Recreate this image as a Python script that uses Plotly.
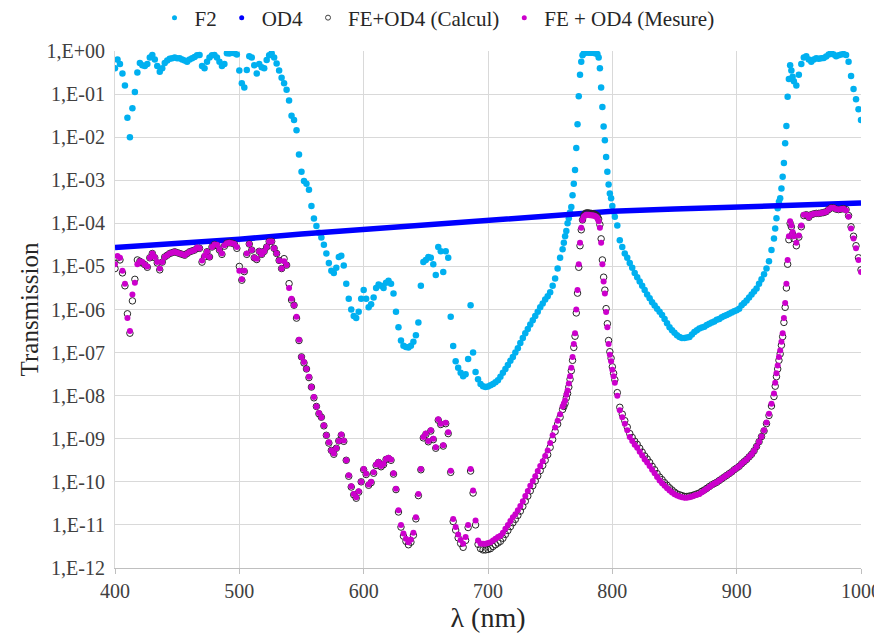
import plotly.graph_objects as go

# Wavelength grid (nm): 2 nm steps, 1 nm steps across the steep edges
wavelength = [*range(400, 760, 2), *range(760, 802), *range(802, 930, 2),
              *range(930, 946), *range(946, 1001, 2)]

# log10 of transmission
f2_log10 = [
    -0.40,-0.20,-0.30,-0.52,-0.80,-1.55,-2.00,-1.33,-0.95,-0.50,
    -0.28,-0.33,-0.35,-0.30,-0.15,-0.09,-0.20,-0.35,-0.48,-0.40,
    -0.28,-0.22,-0.18,-0.17,-0.15,-0.17,-0.17,-0.20,-0.22,-0.25,
    -0.20,-0.17,-0.14,-0.10,-0.09,-0.35,-0.40,-0.25,-0.15,-0.10,
    -0.09,-0.15,-0.25,-0.35,-0.30,-0.05,-0.06,-0.04,-0.05,-0.08,
    -0.45,-0.75,-0.85,-0.44,-0.12,-0.15,-0.33,-0.52,-0.30,-0.38,
    -0.40,-0.21,-0.10,-0.05,-0.15,-0.29,-0.45,-0.62,-0.75,-0.90,
    -1.15,-1.50,-1.60,-1.84,-2.40,-2.80,-3.02,-3.08,-3.22,-3.60,
    -3.89,-4.06,-4.22,-4.33,-4.50,-4.70,-4.92,-5.10,-5.15,-5.03,
    -4.78,-4.75,-4.98,-5.40,-5.75,-6.00,-6.15,-6.20,-6.05,-5.75,
    -5.55,-5.75,-5.95,-5.88,-5.72,-5.50,-5.42,-5.45,-5.50,-5.38,
    -5.33,-5.40,-5.63,-6.05,-6.41,-6.72,-6.84,-6.87,-6.88,-6.84,
    -6.75,-6.60,-6.30,-5.45,-4.90,-4.85,-4.78,-4.80,-4.95,-5.20,
    -4.55,-4.65,-5.13,-4.65,-4.80,-6.17,-6.85,-7.20,-7.35,-7.47,
    -7.55,-7.50,-7.15,-5.90,-7.00,-7.45,-7.62,-7.73,-7.78,-7.80,
    -7.79,-7.76,-7.73,-7.69,-7.64,-7.56,-7.47,-7.38,-7.29,-7.19,
    -7.10,-7.00,-6.90,-6.78,-6.66,-6.55,-6.45,-6.35,-6.25,-6.15,
    -6.05,-5.95,-5.86,-5.77,-5.69,-5.60,-5.45,-5.28,-5.05,-4.80,
    # 760-801 (1 nm)
    -4.60,-4.45,-4.30,-4.18,-4.00,-3.88,-3.75,-3.62,-3.35,-3.08,
    -2.76,-2.25,-1.70,-1.05,-0.55,-0.25,-0.10,-0.06,-0.04,-0.03,
    -0.03,-0.04,-0.03,-0.04,-0.03,-0.04,-0.05,-0.05,-0.07,-0.15,
    -0.40,-0.85,-1.30,-1.75,-2.07,-2.46,-2.80,-3.10,-3.31,-3.42,
    -3.60,-3.73,
    # 802-928
    -3.85,-4.05,-4.39,-4.55,-4.70,-4.80,-4.92,-5.03,-5.15,-5.25,
    -5.35,-5.45,-5.55,-5.65,-5.74,-5.83,-5.91,-5.98,-6.05,-6.13,
    -6.22,-6.32,-6.41,-6.48,-6.54,-6.60,-6.64,-6.66,-6.66,-6.65,
    -6.64,-6.58,-6.52,-6.48,-6.44,-6.42,-6.40,-6.36,-6.33,-6.30,
    -6.28,-6.24,-6.22,-6.18,-6.15,-6.13,-6.10,-6.07,-6.04,-6.02,
    -5.98,-5.90,-5.85,-5.79,-5.72,-5.65,-5.58,-5.51,-5.40,-5.30,
    -5.18,-5.05,-4.88,-4.62,
    # 930-945 (1 nm)
    -4.35,-4.12,-3.88,-3.65,-3.50,-3.42,-3.19,-2.92,-2.60,-2.14,
    -1.74,-1.06,-0.65,-0.33,-0.45,-0.60,
    # 946-1000
    -0.70,-0.80,-0.55,-0.30,-0.15,-0.12,-0.20,-0.25,-0.20,-0.17,
    -0.18,-0.17,-0.16,-0.13,-0.08,-0.04,-0.08,-0.12,-0.10,-0.08,
    -0.07,-0.09,-0.25,-0.58,-0.88,-1.12,-1.35,-1.60,
]

mesure_log10 = [
    -4.95,-4.76,-4.80,-5.10,-5.40,-6.20,-6.50,-5.65,-5.38,-4.95,
    -4.88,-4.90,-4.96,-5.00,-4.80,-4.70,-4.78,-4.90,-5.05,-4.90,
    -4.78,-4.74,-4.70,-4.68,-4.66,-4.68,-4.70,-4.72,-4.74,-4.70,
    -4.66,-4.64,-4.62,-4.56,-4.58,-4.86,-4.75,-4.66,-4.78,-4.55,
    -4.49,-4.50,-4.60,-4.70,-4.51,-4.46,-4.45,-4.46,-4.48,-4.55,
    -5.10,-5.30,-5.10,-4.70,-4.48,-4.62,-4.80,-4.82,-4.65,-4.72,
    -4.65,-4.55,-4.42,-4.42,-4.58,-4.70,-4.86,-5.05,-4.88,-4.97,
    -5.50,-5.75,-5.90,-6.17,-6.70,-7.10,-7.22,-7.38,-7.56,-7.80,
    -8.03,-8.25,-8.40,-8.50,-8.69,-8.92,-9.08,-9.27,-9.34,-9.22,
    -9.05,-8.90,-9.04,-9.50,-9.85,-10.10,-10.28,-10.36,-10.22,-10.00,
    -9.70,-9.81,-10.06,-10.00,-9.78,-9.60,-9.54,-9.63,-9.58,-9.47,
    -9.44,-9.48,-9.80,-10.16,-10.66,-11.00,-11.20,-11.32,-11.40,-11.34,
    -11.18,-10.82,-10.28,-9.70,-8.96,-8.88,-9.05,-8.80,-9.00,-9.20,
    -8.55,-8.65,-9.15,-8.63,-8.85,-9.74,-10.86,-11.05,-11.22,-11.35,
    -11.44,-11.28,-11.00,-9.70,-10.20,-10.90,-11.36,-11.43,-11.44,-11.44,
    -11.42,-11.40,-11.36,-11.32,-11.28,-11.25,-11.18,-11.09,-11.00,-10.91,
    -10.82,-10.75,-10.66,-10.56,-10.45,-10.33,-10.21,-10.09,-9.98,-9.87,
    -9.75,-9.63,-9.52,-9.40,-9.27,-9.10,-8.92,-8.74,-8.58,-8.43,
    # 760-801 (1 nm)
    -8.25,-8.18,-8.11,-7.98,-7.88,-7.72,-7.55,-7.35,-7.10,-6.80,
    -6.55,-6.00,-5.55,-4.95,-4.45,-4.10,-3.92,-3.85,-3.82,-3.80,
    -3.80,-3.80,-3.81,-3.81,-3.82,-3.82,-3.83,-3.85,-3.88,-3.95,
    -4.10,-4.45,-4.95,-5.35,-5.63,-6.06,-6.41,-6.80,-7.05,-7.20,
    -7.40,-7.55,
    # 802-928
    -7.70,-8.00,-8.34,-8.50,-8.65,-8.80,-8.96,-9.05,-9.14,-9.21,
    -9.30,-9.39,-9.48,-9.55,-9.63,-9.72,-9.80,-9.89,-9.97,-10.03,
    -10.09,-10.15,-10.20,-10.25,-10.29,-10.32,-10.34,-10.36,-10.37,-10.37,
    -10.36,-10.34,-10.32,-10.30,-10.28,-10.24,-10.20,-10.16,-10.12,-10.08,
    -10.04,-10.01,-9.97,-9.93,-9.89,-9.85,-9.81,-9.77,-9.72,-9.68,
    -9.64,-9.58,-9.53,-9.48,-9.42,-9.36,-9.28,-9.18,-9.07,-8.95,
    -8.80,-8.62,-8.42,-8.19,
    # 930-945 (1 nm)
    -7.95,-7.70,-7.48,-7.30,-7.10,-6.95,-6.75,-6.55,-6.20,-5.85,
    -5.40,-4.85,-4.30,-3.95,-4.05,-4.20,
    # 946-1000
    -4.30,-4.45,-4.28,-4.05,-3.80,-3.80,-3.86,-3.80,-3.78,-3.77,
    -3.77,-3.76,-3.75,-3.73,-3.68,-3.64,-3.64,-3.67,-3.68,-3.67,
    -3.66,-3.70,-3.85,-4.12,-4.35,-4.58,-4.85,-5.13,
]

calcul_log10 = [
    -5.05,-4.80,-4.85,-5.15,-5.45,-6.10,-6.55,-5.80,-5.30,-4.85,
    -4.88,-4.92,-4.96,-5.02,-4.80,-4.70,-4.80,-4.92,-5.08,-4.90,
    -4.78,-4.74,-4.70,-4.68,-4.66,-4.68,-4.70,-4.72,-4.74,-4.70,
    -4.66,-4.64,-4.62,-4.58,-4.58,-4.90,-4.78,-4.66,-4.78,-4.55,
    -4.49,-4.52,-4.62,-4.72,-4.53,-4.46,-4.45,-4.46,-4.48,-4.58,
    -5.00,-5.32,-5.12,-4.72,-4.48,-4.62,-4.80,-4.84,-4.65,-4.72,
    -4.65,-4.55,-4.42,-4.42,-4.58,-4.70,-4.86,-5.05,-4.82,-4.97,
    -5.40,-5.78,-5.90,-6.20,-6.72,-7.10,-7.24,-7.38,-7.58,-7.80,
    -8.05,-8.25,-8.42,-8.50,-8.70,-8.92,-9.10,-9.27,-9.36,-9.22,
    -9.05,-8.92,-9.06,-9.50,-9.87,-10.12,-10.30,-10.38,-10.24,-10.00,
    -9.72,-9.83,-10.08,-10.02,-9.80,-9.62,-9.55,-9.65,-9.60,-9.48,
    -9.46,-9.50,-9.82,-10.18,-10.70,-11.05,-11.26,-11.38,-11.46,-11.40,
    -11.24,-10.86,-10.32,-9.72,-8.98,-8.90,-9.07,-8.82,-9.02,-9.22,
    -8.57,-8.67,-9.17,-8.65,-8.88,-9.78,-10.92,-11.12,-11.30,-11.43,
    -11.52,-11.36,-11.06,-9.75,-10.26,-11.00,-11.45,-11.55,-11.58,-11.58,
    -11.57,-11.55,-11.50,-11.46,-11.42,-11.38,-11.31,-11.22,-11.13,-11.04,
    -10.95,-10.87,-10.78,-10.68,-10.57,-10.45,-10.33,-10.21,-10.09,-9.98,
    -9.86,-9.74,-9.62,-9.50,-9.37,-9.20,-9.02,-8.83,-8.66,-8.50,
    # 760-801 (1 nm)
    -8.32,-8.25,-8.18,-8.05,-7.95,-7.80,-7.62,-7.42,-7.18,-6.88,
    -6.62,-6.08,-5.62,-5.02,-4.52,-4.15,-3.92,-3.82,-3.78,-3.76,
    -3.76,-3.76,-3.77,-3.77,-3.78,-3.78,-3.79,-3.81,-3.84,-3.90,
    -4.03,-4.36,-4.85,-5.25,-5.55,-5.98,-6.33,-6.72,-6.98,-7.13,
    -7.33,-7.48,
    # 802-928
    -7.63,-7.93,-8.27,-8.43,-8.58,-8.73,-8.88,-8.97,-9.06,-9.13,
    -9.22,-9.31,-9.40,-9.47,-9.55,-9.64,-9.72,-9.81,-9.89,-9.95,
    -10.02,-10.08,-10.14,-10.19,-10.24,-10.28,-10.30,-10.32,-10.34,-10.34,
    -10.33,-10.32,-10.30,-10.28,-10.26,-10.22,-10.19,-10.15,-10.11,-10.07,
    -10.04,-10.01,-9.97,-9.93,-9.89,-9.85,-9.81,-9.77,-9.72,-9.68,
    -9.64,-9.58,-9.53,-9.48,-9.42,-9.36,-9.28,-9.18,-9.07,-8.95,
    -8.82,-8.65,-8.46,-8.24,
    # 930-945 (1 nm)
    -8.02,-7.78,-7.56,-7.38,-7.18,-7.03,-6.83,-6.63,-6.30,-5.95,
    -5.50,-4.95,-4.38,-4.00,-4.08,-4.25,
    # 946-1000
    -4.35,-4.52,-4.32,-4.08,-3.82,-3.80,-3.86,-3.80,-3.78,-3.77,
    -3.77,-3.76,-3.75,-3.73,-3.68,-3.64,-3.64,-3.67,-3.68,-3.67,
    -3.66,-3.68,-3.82,-4.08,-4.30,-4.52,-4.80,-5.08,
]

od4_wavelength = [400, 450, 500, 550, 600, 650, 700, 750, 800, 850, 900, 950, 1000]
od4_log10 = [-4.56, -4.47, -4.37, -4.25, -4.14, -4.04, -3.93, -3.83, -3.72, -3.67, -3.62, -3.58, -3.53]

series_names = ["F2", "OD4", "FE+OD4 (Calcul)", "FE + OD4 (Mesure)"]

y_exponents = list(range(0, -13, -1))
y_tick_text = ["1,E+00"] + [f"1,E-{abs(e):02d}" for e in y_exponents[1:]]
x_ticks = [400, 500, 600, 700, 800, 900, 1000]

assert len(f2_log10) == len(wavelength) == len(mesure_log10) == len(calcul_log10)

to_T = lambda arr: [10 ** v for v in arr]

FONT = "Liberation Serif, Times New Roman, serif"
TXT = "#262626"
C_F2, C_OD4, C_CALC, C_MES = "#00B0F0", "#0000FF", "#262626", "#CC00CC"

fig = go.Figure()
fig.add_trace(go.Scatter(x=wavelength, y=to_T(f2_log10), mode="markers", name=series_names[0],
                         marker=dict(color=C_F2, size=6.5, line=dict(width=0)), showlegend=False))
fig.add_trace(go.Scatter(x=od4_wavelength, y=to_T(od4_log10), mode="lines", name=series_names[1],
                         line=dict(color=C_OD4, width=5.5), showlegend=False))
fig.add_trace(go.Scatter(x=wavelength, y=to_T(calcul_log10), mode="markers", name=series_names[2],
                         marker=dict(symbol="circle-open", color=C_CALC, size=6.5,
                                     line=dict(width=1)), showlegend=False))
fig.add_trace(go.Scatter(x=wavelength, y=to_T(mesure_log10), mode="markers", name=series_names[3],
                         marker=dict(color=C_MES, size=6, line=dict(width=0)), showlegend=False))

# legend entries (small dots, as in the original legend)
legend_markers = [dict(color=C_F2, size=5), dict(color=C_OD4, size=5),
                  dict(symbol="circle-open", color="#404040", size=5, line=dict(width=1)),
                  dict(color=C_MES, size=5)]
for name, mk in zip(series_names, legend_markers):
    fig.add_trace(go.Scatter(x=[None], y=[None], mode="markers", name=name, marker=mk))

# The page places the figure 8 px from the top-left corner, so the figure is
# sized to the remaining viewport (874 x 626).
W, H = 874, 626
fig.update_layout(
    width=W, height=H,
    margin=dict(l=107, r=21, t=43, b=66, autoexpand=False),
    paper_bgcolor="white", plot_bgcolor="white",
    font=dict(family=FONT, color=TXT, size=20),
    legend=dict(orientation="h", xref="container", x=0.5 - 8 / W, xanchor="center",
                yref="container", y=1 - 10 / H, yanchor="middle",
                font=dict(size=21, family=FONT, color=TXT),
                itemwidth=30, bgcolor="rgba(0,0,0,0)"),
    showlegend=True,
)
fig.update_xaxes(range=[400, 1000], tickvals=x_ticks, showgrid=True, gridcolor="#d9d9d9",
                 gridwidth=1, showline=True, linecolor="#bfbfbf", linewidth=1,
                 ticks="outside", ticklen=5, tickcolor="#bfbfbf", zeroline=False,
                 tickfont=dict(size=20, family=FONT, color="#404040"),
                 title=dict(text="λ (nm)", font=dict(size=28, family=FONT, color=TXT), standoff=0))
fig.update_yaxes(type="log", range=[-12, 0], tickvals=[10 ** e for e in y_exponents],
                 ticktext=y_tick_text, showgrid=True, gridcolor="#d9d9d9", gridwidth=1,
                 showline=True, linecolor="#d9d9d9", linewidth=1, ticks="",
                 ticklabelstandoff=5, zeroline=False,
                 tickfont=dict(size=20, family=FONT, color="#404040"),
                 title=dict(text="Transmission", font=dict(size=25, family=FONT, color=TXT), standoff=0))

fig.write_html("out.html")
